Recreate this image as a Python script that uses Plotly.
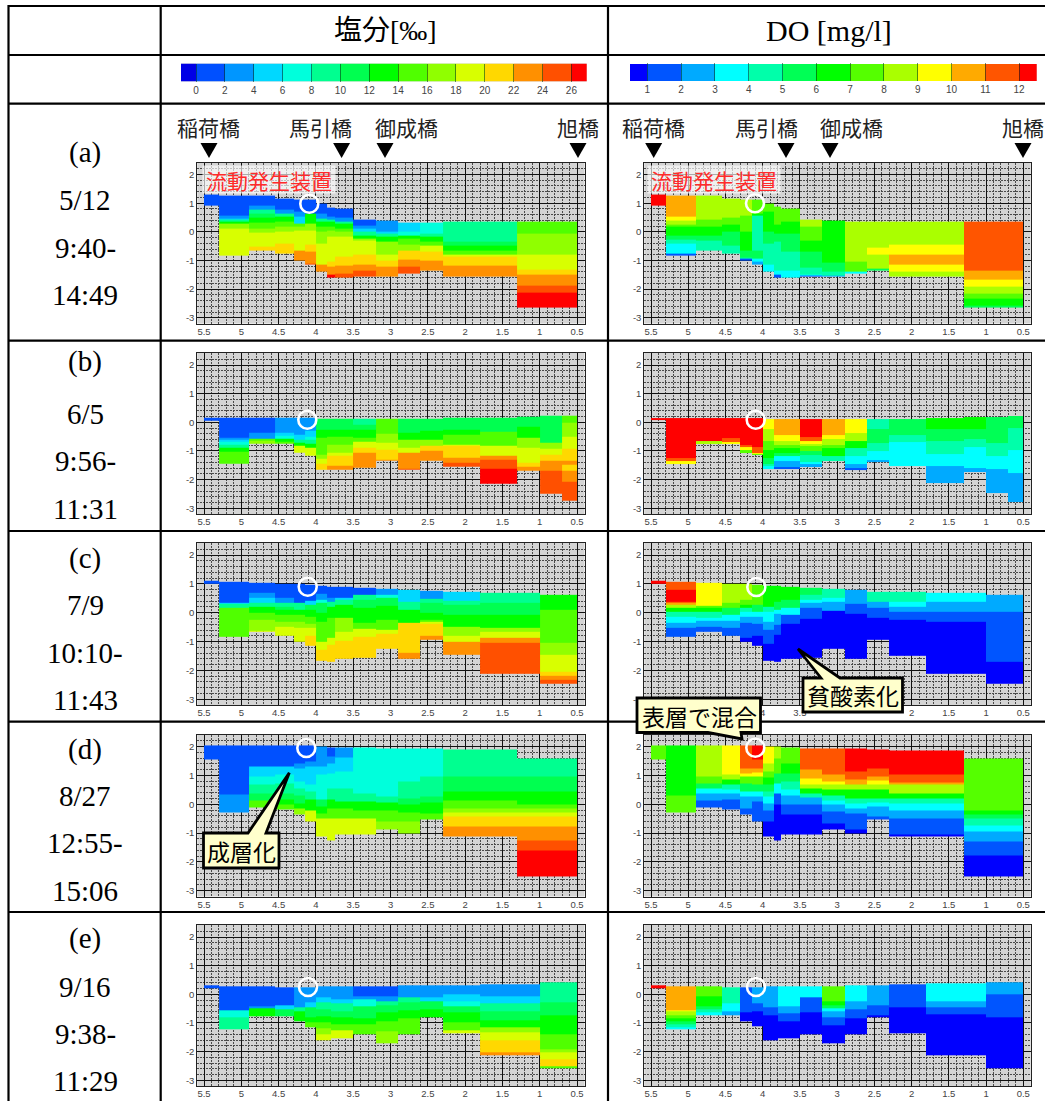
import plotly.graph_objects as go

W, H = 1045, 1101
NAN = None

# Each column: (river km left, river km right, level boundaries top->bottom, band value of each layer)
SAL_A = [
 (5.5,5.3,[1.30,.90],[1]),
 (5.3,4.9,[1.28,.58,.47,.41,.35,.29,.13,-.83],[1,3,5,9,13,17,19]),
 (4.9,4.55,[1.26,.93,.78,.64,.50,.33,.13,-.03,-.50,-.66],[1,3,9,11,13,15,17,19,21]),
 (4.55,4.3,[1.16,.78,.64,.52,.35,.17,0,-.40,-.76],[1,3,9,13,15,17,19,21]),
 (4.3,4.15,[1.13,.70,.52,.29,.17,.06,-.66,-.99],[1,3,5,15,17,19,23]),
 (4.15,4.0,[1.13,.64,.29,.06,-.46,-.70,-1.10,-1.13],[1,13,17,19,21,23,25]),
 (4.0,3.85,[1.00,.64,.46,.35,.17,0,-.40,-1.14,-1.40],[1,3,9,13,15,17,19,23]),
 (3.85,3.75,[.85,.52,.43,.35,.17,.06,-.15,-1.05,-1.22,-1.50,-1.58],[1,3,9,13,15,17,19,21,23,27]),
 (3.75,3.5,[.81,.49,.37,.29,.12,0,-.15,-.87,-1.18,-1.45,-1.60],[1,3,9,13,15,17,19,21,23,25]),
 (3.5,3.2,[.44,.23,.12,0,-.12,-.23,-.31,-.81,-1.16,-1.36,-1.57],[1,3,5,9,13,17,19,21,23,25]),
 (3.2,2.9,[.40,0,-.06,-.17,-.35,-.78,-.99,-1.22,-1.57],[3,5,9,13,17,19,21,23]),
 (2.9,2.6,[.32,0,-.12,-.23,-.44,-.64,-.97,-1.20,-1.45],[5,7,13,15,17,21,23,25]),
 (2.6,2.3,[.32,-.06,-.17,-.35,-.49,-.69,-1.0,-1.36],[7,9,13,15,19,21,23]),
 (2.3,1.3,[.35,-.35,-.49,-.66,-.81,-.87,-1.18,-1.57],[9,11,13,15,19,21,23]),
 (1.3,.5,[.35,-.06,-.78,-1.31,-1.48,-1.86,-2.12,-2.65],[15,17,19,21,23,25,27]),
]
DO_A = [
 (5.5,5.3,[1.30,.90],[12.5]),
 (5.3,4.9,[1.28,.52,.38,.27,.17,-.12,-.27,-.41,-.76,-.84],[10.5,9.5,8.5,7.5,6.5,5.5,4.5,3.5,1.5]),
 (4.9,4.55,[1.26,.41,.17,-.12,-.31,-.49,-.66],[8.5,7.5,6.5,5.5,4.5,4.5]),
 (4.55,4.3,[1.16,.50,.27,0,-.47,-.76],[8.5,7.5,6.5,5.5,4.5]),
 (4.3,4.15,[1.13,.58,0,-.64,-.90,-.93,-1.0],[8.5,7.5,6.5,5.5,4.5,1.5]),
 (4.15,4.0,[1.13,.64,.58,0,-.64,-.95,-1.05,-1.13],[7.5,6.5,4.5,4.5,5.5,3.5,2.5]),
 (4.0,3.85,[1.0,.70,0,-.41,-1.16,-1.40],[7.5,6.5,5.5,4.5,3.5]),
 (3.85,3.75,[.87,.27,-.06,-.35,-1.34,-1.50,-1.58],[7.5,6.5,5.5,4.5,3.5,1.5]),
 (3.75,3.5,[.81,.35,-.06,-.70,-1.36,-1.60],[7.5,6.5,5.5,4.5,3.5]),
 (3.5,3.2,[.44,.17,-.29,-.70,-1.24,-1.49,-1.51,-1.57],[8.5,7.5,6.5,5.5,4.5,3.5,1.5]),
 (3.2,2.9,[.40,-1.08,-1.40,-1.51,-1.57],[6.5,5.5,4.5,2.5]),
 (2.9,2.6,[.35,-1.05,-1.40,-1.45],[8.5,7.5,3.5]),
 (2.6,2.3,[.35,-.56,-.78,-1.28,-1.36],[8.5,9.5,8.5,5.5]),
 (2.3,1.3,[.35,-.43,-.81,-1.13,-1.40,-1.57],[8.5,9.5,10.5,9.5,8.5]),
 (1.3,.5,[.35,-1.37,-1.66,-1.90,-2.15,-2.33,-2.56,-2.65],[11.5,10.5,9.5,8.5,7.5,6.5,5.5]),
]
SAL_B = [
 (5.5,5.3,[.15,.07],[1]),
 (5.3,4.9,[.15,-.54,-.61,-.69,-.77,-.89,-1.04,-1.45],[1,3,5,7,9,13,15]),
 (4.9,4.55,[.15,-.37,-.58,-.66,-.75],[1,3,15,17]),
 (4.55,4.3,[.15,-.37,-.46,-.58,-.68,-.75],[3,5,7,13,15]),
 (4.3,4.15,[.15,-.45,-.60,-.72,-.83,-1.05],[3,5,9,13,19]),
 (4.15,4.0,[.15,-.31,-.52,-.60,-.75,-.87,-1.15],[3,5,7,9,13,19]),
 (4.0,3.85,[.13,-.25,-.54,-1.12,-1.26,-1.45,-1.64],[11,13,15,17,19,21]),
 (3.85,3.5,[.13,-.25,-.49,-.78,-1.06,-1.18,-1.53,-1.64],[11,13,15,17,19,21,23]),
 (3.5,3.2,[.13,-.08,-.25,-.54,-.68,-.87,-1.06,-1.57],[9,11,13,15,19,21,23]),
 (3.2,2.9,[.13,-.40,-.72,-.95,-1.30,-1.35],[15,17,19,21,23]),
 (2.9,2.6,[.13,-.37,-.60,-.89,-1.06,-1.61,-1.65],[11,13,17,19,23,25]),
 (2.6,2.3,[.13,-.29,-.60,-.83,-.98,-1.33],[11,13,17,21,23]),
 (2.3,1.8,[.15,-.25,-.43,-.78,-.83,-1.24,-1.41,-1.54],[11,13,15,19,21,23,25]),
 (1.8,1.3,[.16,-.34,-.83,-1.18,-1.32,-1.61,-2.13],[11,15,19,23,25,27]),
 (1.3,1.0,[.19,-.14,-.54,-.87,-1.41,-1.56,-1.70],[11,13,17,19,21,23]),
 (1.0,.7,[.22,-.72,-.93,-1.12,-1.33,-1.70,-2.48],[11,17,19,21,23,25]),
 (.7,.5,[.23,0,-.49,-.91,-1.33,-1.47,-1.70,-2.08,-2.74],[15,17,19,21,23,21,23,25]),
]
DO_B = [
 (5.5,5.3,[.15,.07],[12.5]),
 (5.3,4.9,[.15,-1.26,-1.36,-1.45],[12.5,11.5,9.5]),
 (4.9,4.55,[.15,-.66,-.75],[12.5,8.5]),
 (4.55,4.3,[.15,-.54,-.68,-.75],[12.5,11.5,9.5]),
 (4.3,4.15,[.15,-.78,-.87,-.98,-1.06],[12.5,11.5,9.5,7.5]),
 (4.15,4.0,[.15,-.87,-1.06,-1.10,-1.15],[12.5,11.5,9.5,7.5]),
 (4.0,3.85,[.13,-.22,-.66,-.95,-1.24,-1.45,-1.53,-1.64],[9.5,8.5,7.5,6.5,5.5,4.5,3.5]),
 (3.85,3.5,[.13,-.45,-.64,-.78,-.89,-1.06,-1.18,-1.35,-1.56,-1.64],[10.5,9.5,8.5,7.5,6.5,5.5,3.5,2.5,1.5]),
 (3.5,3.2,[.13,-.51,-.64,-.75,-.83,-1.0,-1.14,-1.38,-1.45,-1.57],[12.5,11.5,9.5,8.5,7.5,5.5,4.5,3.5,2.5]),
 (3.2,2.9,[.13,-.45,-.57,-.78,-.89,-1.18,-1.35],[10.5,9.5,8.5,7.5,6.5,4.5]),
 (2.9,2.6,[.13,-.37,-.66,-.89,-1.18,-1.47,-1.59,-1.65],[9.5,8.5,6.5,4.5,3.5,2.5,1.5]),
 (2.6,2.3,[.13,-.22,-.72,-1.0,-1.32,-1.38],[4.5,5.5,4.5,3.5,2.5]),
 (2.3,1.8,[.13,-.43,-.68,-1.54],[5.5,4.5,3.5]),
 (1.8,1.3,[.15,-.25,-.64,-1.10,-1.53,-2.13],[6.5,5.5,4.5,3.5,2.5]),
 (1.3,1.0,[.17,-.25,-.60,-.87,-1.59,-1.72],[6.5,5.5,4.5,3.5,2.5]),
 (1.0,.7,[.20,-.72,-1.18,-1.64,-2.48],[5.5,4.5,3.5,2.5]),
 (.7,.5,[.22,-.20,-.98,-1.78,-2.77],[5.5,4.5,3.5,2.5]),
]
SAL_C = [
 (5.5,5.3,[1.11,1.0],[1]),
 (5.3,4.9,[1.07,.36,.30,.19,-.82],[1,5,9,15]),
 (4.9,4.55,[1.04,.68,.51,.34,.22,0,-.24,-.61,-.67],[1,3,5,9,13,15,17,19]),
 (4.55,4.3,[1.02,.51,.34,.22,.10,-.07,-.30,-.50,-.80],[1,3,9,11,13,15,17,19]),
 (4.3,4.15,[1.0,.34,.10,-.07,-.32,-.51,-1.02],[1,9,13,15,17,19]),
 (4.15,4.0,[.97,.42,.28,.10,-.13,-.39,-.51,-.79,-1.13],[1,5,11,13,15,17,19,21]),
 (4.0,3.85,[.95,.65,.45,.34,0,-.30,-1.0,-1.28,-1.66],[1,3,7,11,13,15,19,21]),
 (3.85,3.75,[.91,.51,.39,.22,-.19,-.88,-1.11,-1.69],[1,3,9,13,15,19,21]),
 (3.75,3.5,[.89,.51,.45,.28,-.19,-.65,-.97,-1.60],[1,5,9,13,17,19,21]),
 (3.5,3.2,[.86,.63,.45,.16,-.36,-.57,-.82,-1.55],[1,9,11,13,15,19,21]),
 (3.2,2.9,[.82,.63,.51,.25,-.24,-.59,-.73,-1.25],[3,7,11,13,15,19,21]),
 (2.9,2.6,[.80,.39,.10,-.36,-1.40,-1.60],[5,9,13,21,23]),
 (2.6,2.3,[.76,.49,.34,0,-.24,-.30,-.39,-.80,-.95],[3,9,11,13,15,19,21,23]),
 (2.3,1.8,[.72,.43,.28,-.07,-.50,-.80,-1.0,-1.46],[5,9,11,13,17,19,23]),
 (1.8,1.0,[.70,.34,-.07,-.51,-.65,-.86,-1.03,-2.12],[9,11,13,17,19,23,25]),
 (1.0,.5,[.63,.10,-1.03,-1.46,-2.06,-2.18,-2.32,-2.47],[13,15,17,19,21,23,25]),
]
DO_C = [
 (5.5,5.3,[1.11,1.0],[12.5]),
 (5.3,4.9,[1.07,.80,.39,.33,.28,.16,.02,-.13,-.33,-.53,-.82],[11.5,12.5,11.5,10.5,8.5,6.5,4.5,3.5,2.5,1.5]),
 (4.9,4.55,[1.04,.25,.16,.02,-.16,-.28,-.47,-.67],[9.5,7.5,6.5,4.5,3.5,2.5,1.5]),
 (4.55,4.3,[1.02,.34,.16,-.07,-.28,-.51,-.79],[8.5,7.5,5.5,3.5,2.5,1.5]),
 (4.3,4.15,[1.0,.45,.28,.16,.02,-.13,-.36,-.88,-1.0],[8.5,7.5,6.5,4.5,3.5,2.5,1.5,.5]),
 (4.15,4.0,[.97,.28,.05,-.13,-.39,-.79,-1.13],[7.5,5.5,3.5,2.5,1.5,.5]),
 (4.0,3.85,[.95,.22,.02,-.30,-.59,-1.08,-1.67],[6.5,4.5,3.5,2.5,1.5,.5]),
 (3.85,3.75,[.94,.39,.10,-.05,-.42,-.76,-1.69],[6.5,5.5,3.5,2.5,1.5,.5]),
 (3.75,3.5,[.91,.45,.16,-.07,-.39,-1.60],[6.5,5.5,3.5,1.5,.5]),
 (3.5,3.2,[.86,.63,.45,.34,.16,-.21,-1.55],[5.5,4.5,3.5,2.5,1.5,.5]),
 (3.2,2.9,[.82,.51,.39,.07,-1.25],[4.5,3.5,2.5,.5]),
 (2.9,2.6,[.80,.31,-.05,-1.60],[2.5,1.5,.5]),
 (2.6,2.3,[.74,.39,.18,-.19,-.95],[4.5,2.5,1.5,.5]),
 (2.3,1.8,[.72,.37,.22,.02,-.24,-1.48],[4.5,3.5,2.5,1.5,.5]),
 (1.8,1.0,[.69,.37,.02,-.32,-2.13],[3.5,2.5,1.5,.5]),
 (1.0,.5,[.63,.02,-1.69,-2.47],[2.5,1.5,.5]),
]
SAL_D = [
 (5.5,5.3,[2.04,1.54],[1]),
 (5.3,4.9,[2.04,.35,-.28],[1,3]),
 (4.9,4.55,[2.04,1.31,.96,.67,.38,.12,-.12],[1,5,7,9,11,15]),
 (4.55,4.3,[2.04,1.31,1.02,.73,.38,.15,-.02,-.17],[1,5,7,9,11,13,15]),
 (4.3,4.15,[2.04,1.42,1.25,.79,.56,.32,.03,-.14,-.37],[1,3,5,7,9,11,13,17]),
 (4.15,4.0,[2.04,1.48,1.31,.67,.44,.15,-.23,-.60],[1,3,5,7,9,13,19]),
 (4.0,3.85,[2.0,1.31,1.02,.15,-.08,-.31,-.49,-1.12],[3,5,7,11,13,15,19]),
 (3.85,3.75,[1.97,1.66,1.43,1.08,.56,.15,-.14,-.49,-1.24],[1,3,5,7,9,13,15,19]),
 (3.75,3.5,[1.97,1.62,1.13,.56,.09,-.14,-.49,-1.04],[3,5,7,9,13,15,19]),
 (3.5,3.2,[1.97,.38,.09,-.20,-.49,-1.06],[7,9,13,15,19]),
 (3.2,2.9,[1.95,.27,.07,-.20,-.60,-.86],[7,9,13,15,17]),
 (2.9,2.6,[1.92,.79,.19,-.02,-.28,-.60,-1.0],[7,9,11,13,15,17]),
 (2.6,2.3,[1.92,.96,.27,.07,-.31,-.51],[7,9,11,13,15]),
 (2.3,1.3,[1.89,.96,.46,.12,-.16,-.30,-.43,-.78,-1.10],[9,11,13,15,17,19,21,23]),
 (1.3,.5,[1.6,.96,.46,-.02,-.14,-.28,-.41,-.78,-1.26,-1.59,-2.52],[9,11,13,15,17,19,21,23,25,27]),
]
DO_D = [
 (5.5,5.3,[2.04,1.54],[7.5]),
 (5.3,4.9,[2.04,.29,-.28],[6.5,7.5]),
 (4.9,4.55,[2.04,.96,.73,.56,.36,.13,-.10],[8.5,7.5,5.5,3.5,2.5,1.5]),
 (4.55,4.3,[2.04,1.02,.85,.67,.50,.36,.15,-.17],[9.5,8.5,6.5,4.5,3.5,2.5,1.5]),
 (4.3,4.15,[2.04,1.23,1.08,.96,.73,.46,.27,-.14,-.37],[11.5,10.5,9.5,7.5,5.5,3.5,2.5,1.5]),
 (4.15,4.0,[2.04,1.54,1.23,1.11,.96,.67,.46,.27,.09,-.60],[12.5,11.5,10.5,9.5,7.5,5.5,3.5,2.5,1.5]),
 (4.0,3.85,[2.0,1.42,1.13,.94,.67,.44,.27,.03,-.23,-.60,-1.10],[9.5,8.5,7.5,6.5,5.5,4.5,3.5,2.5,1.5,.5]),
 (3.85,3.75,[1.99,1.6,1.08,.73,.38,0,-1.24],[8.5,7.5,5.5,3.5,1.5,.5]),
 (3.75,3.5,[1.97,1.42,1.08,.79,.50,.32,-.02,-.37,-1.06],[7.5,6.5,5.5,4.5,3.5,2.5,1.5,.5]),
 (3.5,3.2,[1.95,1.20,.88,.69,.56,.38,.23,-.02,-.37,-1.06],[11.5,10.5,9.5,8.5,6.5,4.5,2.5,1.5,.5]),
 (3.2,2.9,[1.92,1.02,.79,.69,.50,.32,.12,-.02,-.25,-.66,-.86],[11.5,10.5,9.5,8.5,6.5,4.5,3.5,2.5,1.5,.5]),
 (2.9,2.6,[1.92,1.13,.85,.69,.50,.21,.03,-.14,-.31,-.89,-1.0],[12.5,11.5,10.5,8.5,6.5,4.5,3.5,2.5,1.5,.5]),
 (2.6,2.3,[1.90,1.25,.96,.82,.67,.50,.19,.06,-.08,-.43,-.52],[12.5,11.5,10.5,9.5,8.5,6.5,4.5,3.5,2.5,1.5]),
 (2.3,1.3,[1.87,1.02,.76,.69,.38,.19,.03,-.23,-.49,-1.06,-1.10],[12.5,11.5,10.5,8.5,6.5,4.5,3.5,2.5,1.5,.5]),
 (1.3,.5,[1.6,-.20,-.35,-.49,-.75,-.93,-1.30,-1.76,-2.52],[7.5,6.5,5.5,4.5,3.5,2.5,1.5,.5]),
]
SAL_E = [
 (5.5,5.3,[.31,.21],[1]),
 (5.3,4.9,[.28,-.56,-.81,-1.22],[1,7,9]),
 (4.9,4.55,[.28,-.41,-.49,-.75],[1,3,13]),
 (4.55,4.3,[.25,-.37,-.52,-.75],[1,5,11]),
 (4.3,4.15,[.25,-.46,-.60,-.95],[3,9,13]),
 (4.15,4.0,[.25,-.27,-.46,-.81,-.98,-1.16],[3,5,11,13,15]),
 (4.0,3.8,[.28,-.12,-.29,-.52,-.75,-.98,-1.18,-1.41,-1.62],[3,5,9,11,13,15,17,19]),
 (3.8,3.5,[.28,-.17,-.32,-.58,-.81,-1.06,-1.27,-1.53],[3,5,9,11,13,15,19]),
 (3.5,3.2,[.28,-.06,-.17,-.41,-.83,-1.06,-1.41],[1,3,7,11,13,15]),
 (3.2,2.9,[.28,-.06,-.23,-.37,-.64,-.95,-1.30,-1.71],[1,3,9,11,13,15,17]),
 (2.9,2.6,[.30,-.12,-.29,-.54,-.83,-1.39],[3,9,11,13,15]),
 (2.6,2.3,[.31,-.12,-.25,-.52,-.79],[3,5,11,13]),
 (2.3,1.8,[.32,0,-.23,-.41,-.64,-.98,-1.24,-1.37],[3,5,7,11,13,15,19]),
 (1.8,1.0,[.36,-.06,-.32,-.58,-.90,-1.16,-1.33,-1.62,-2.04,-2.12],[3,5,9,11,13,17,19,21,23]),
 (1.0,.5,[.42,-.29,-.72,-1.41,-1.91,-2.03,-2.28,-2.51,-2.58],[9,11,13,15,17,19,21,15]),
]
DO_E = [
 (5.5,5.3,[.31,.21],[12.5]),
 (5.3,4.9,[.28,-.54,-.60,-.72,-.83,-.95,-1.06,-1.16,-1.22],[10.5,9.5,8.5,7.5,6.5,5.5,4.5,3.5]),
 (4.9,4.55,[.28,-.06,-.41,-.52,-.64,-.73],[7.5,6.5,5.5,4.5,3.5]),
 (4.55,4.3,[.25,-.31,-.60,-.73],[4.5,3.5,2.5]),
 (4.3,4.15,[.25,-.61,-.95],[1.5,.5]),
 (4.15,4.0,[.25,-.33,-.60,-1.13],[2.5,1.5,.5]),
 (4.0,3.8,[.28,-.44,-.73,-1.62],[2.5,1.5,.5]),
 (3.8,3.5,[.28,-.41,-.67,-.93,-1.53],[3.5,2.5,1.5,.5]),
 (3.5,3.2,[.28,-.12,-.64,-1.41],[3.5,1.5,.5]),
 (3.2,2.9,[.28,-.23,-.37,-.49,-.58,-.79,-1.07,-1.71],[7.5,6.5,5.5,3.5,2.5,1.5,.5]),
 (2.9,2.6,[.30,-.23,-.52,-.85,-1.39],[3.5,2.5,1.5,.5]),
 (2.6,2.3,[.31,-.37,-.72,-.79],[2.5,1.5,.5]),
 (2.3,1.8,[.35,-.44,-1.37],[1.5,.5]),
 (1.8,1.0,[.37,-.23,-.44,-.69,-2.12],[3.5,2.5,1.5,.5]),
 (1.0,.5,[.42,0,-.79,-2.58],[2.5,1.5,.5]),
]

SAL_COLORS = ["#0000e6","#0050ff","#0096ff","#00d8ff","#00ffdc","#00ff90","#00ff50","#00ff00",
              "#50ff00","#90ff00","#d8ff00","#ffd800","#ff9000","#ff5000","#ff0000"]
DO_COLORS = ["#0000ff","#0055ff","#00aaff","#00ffff","#00ffaa","#00ff55","#00ff00","#55ff00",
             "#aaff00","#ffff00","#ffaa00","#ff5500","#ff0000"]
SAL_BAR_TICKS = [0,2,4,6,8,10,12,14,16,18,20,22,24,26]
DO_BAR_TICKS = [1,2,3,4,5,6,7,8,9,10,11,12]
X_TICKS = [5.5,5,4.5,4,3.5,3,2.5,2,1.5,1,.5]
X_LABELS = ["5.5","5","4.5","4","3.5","3","2.5","2","1.5","1","0.5"]
# tick labels the reference hides behind the two callouts of row (c), right panel
X_LABELS_COVERED = ["","","","4","3.5","","","2","1.5","1","0.5"]
Y_TICKS = [2,1,0,-1,-2,-3]
Y_LABELS = ["2","1","0","-1","-2","-3"]
ROW_LABELS = [["(a)","5/12","9:40-","14:49"],["(b)","6/5","9:56-","11:31"],["(c)","7/9","10:10-","11:43"],
              ["(d)","8/27","12:55-","15:06"],["(e)","9/16","9:38-","11:29"]]
BRIDGES = ["稲荷橋","馬引橋","御成橋","旭橋"]

def stepped(colors):
    n = len(colors); out = []
    for i, c in enumerate(colors):
        out += [[i/n, c], [(i+1)/n, c]]
    return out
SAL_SCALE = dict(colorscale=stepped(SAL_COLORS), zmin=-2, zmax=28, showscale=False)
DO_SCALE = dict(colorscale=stepped(DO_COLORS), zmin=0, zmax=13, showscale=False)

def grid(cols):
    xs = sorted({c[0] for c in cols} | {c[1] for c in cols})
    ys = sorted({round(v, 3) for c in cols for v in c[2]})
    z = [[NAN]*(len(xs)-1) for _ in range(len(ys)-1)]
    for xl, xr, bs, vs in cols:
        assert len(bs) == len(vs)+1, (xl, bs, vs)
        for j in range(len(xs)-1):
            xm = (xs[j]+xs[j+1])/2
            if not (xr < xm < xl):
                continue
            for i in range(len(ys)-1):
                ym = (ys[i]+ys[i+1])/2
                for k, v in enumerate(vs):
                    if bs[k+1] < ym < bs[k]:
                        z[i][j] = v
    return xs, ys, z

fig = go.Figure()
px = lambda x: x/W
py = lambda y: 1-y/H
SANS = "Liberation Sans, Arial, sans-serif"
SERIF = "Liberation Serif, Noto Sans CJK JP, serif"
CJK = "Noto Sans CJK JP, sans-serif"
layout = {}
n_axis = [0]

def add_axes(x0, x1, y0, y1):
    n_axis[0] += 1
    s = "" if n_axis[0] == 1 else str(n_axis[0])
    return n_axis[0], s, dict(domain=[px(x0), px(x1)]), dict(domain=[py(y1), py(y0)])

ROWS = [(162.5,323.5),(353,514),(543,705),(734.5,896.5),(925,1086)]
LEFT = (197.3,584.5)
RIGHT = (644.3,1030.7)
PANELS = [(SAL_A,DO_A),(SAL_B,DO_B),(SAL_C,DO_C),(SAL_D,DO_D),(SAL_E,DO_E)]

for r,(top,bot) in enumerate(ROWS):
    for data, scale, (xa, xb) in ((PANELS[r][0],SAL_SCALE,LEFT),(PANELS[r][1],DO_SCALE,RIGHT)):
        k, s, ax, ay = add_axes(xa, xb, top, bot)
        xs, ys, z = grid(data)
        fig.add_trace(go.Heatmap(x=xs, y=ys, z=z, xaxis=f"x{s}", yaxis=f"y{s}", hoverongaps=False, **scale))
        labels = X_LABELS_COVERED if data is DO_C else X_LABELS
        ax.update(range=[5.59,0.40], anchor=f"y{s}", tickmode="array", tickvals=X_TICKS, ticktext=labels,
                  showgrid=True, gridcolor="#111", gridwidth=1.3, zeroline=False,
                  minor=dict(dtick=0.1, tick0=0, showgrid=True, gridcolor="#4a4a4a", griddash="2px,1px", gridwidth=1, ticks=""),
                  showline=True, linecolor="#222", mirror=True, linewidth=1, ticks="",
                  tickfont=dict(family=SANS, size=9.5, color="#444"), ticklabelstandoff=-1)
        ay.update(range=[-3.2,2.42], anchor=f"x{s}", tickmode="array", tickvals=Y_TICKS, ticktext=Y_LABELS,
                  showgrid=True, gridcolor="#111", gridwidth=1.3, zeroline=False,
                  minor=dict(dtick=0.2, tick0=0, showgrid=True, gridcolor="#4a4a4a", griddash="2px,1px", gridwidth=1, ticks=""),
                  showline=True, linecolor="#222", mirror=True, linewidth=1, ticks="",
                  tickfont=dict(family=SANS, size=9.5, color="#444"))
        layout[f"xaxis{s}"] = ax; layout[f"yaxis{s}"] = ay

# colour keys
for edges, vals, ticks, scale, (xa, xb, ya, yb), rng in (
    ([-1.04]+SAL_BAR_TICKS+[27.06], [-1]+[t+1 for t in SAL_BAR_TICKS], SAL_BAR_TICKS, SAL_SCALE, (181,586.7,63.5,81.5), [-1.04,27.06]),
    ([0.488]+DO_BAR_TICKS+[12.52], [.5]+[t+.5 for t in DO_BAR_TICKS], DO_BAR_TICKS, DO_SCALE, (630,1036.7,64,81), [0.488,12.52])):
    k, s, ax, ay = add_axes(xa, xb, ya, yb)
    fig.add_trace(go.Heatmap(x=edges, y=[0,1], z=[vals], xaxis=f"x{s}", yaxis=f"y{s}", **scale))
    ax.update(range=rng, anchor=f"y{s}", tickmode="array", tickvals=ticks, ticks="inside", ticklen=18,
              tickcolor="rgba(0,50,20,0.55)", tickwidth=1, showgrid=False, zeroline=False, showline=False,
              tickfont=dict(family=SANS, size=10, color="#444"), ticklabelstandoff=1)
    ay.update(range=[0,1], anchor=f"x{s}", visible=False)
    layout[f"xaxis{s}"] = ax; layout[f"yaxis{s}"] = ay

shapes = []; ann = []
def line(x0,y0,x1,y1,w=2.2):
    shapes.append(dict(type="line",xref="paper",yref="paper",x0=px(x0),y0=py(y0),x1=px(x1),y1=py(y1),line=dict(color="black",width=w)))
for y in (6,55,103.7,340.7,531,721.7,912):
    line(8,y,W,y)
line(8.5,5,8.5,H); line(160.7,5,160.7,H); line(608,5,608,H)

def text(x,y,t,size,family=SERIF,color="black",**kw):
    ann.append(dict(xref="paper",yref="paper",x=px(x),y=py(y),text=t,showarrow=False,xanchor="center",yanchor="middle",
                    font=dict(family=family,size=size,color=color),**kw))
text(385,31,"塩分[‰]",28)
text(829,31,"DO [mg/l]",30)
ROW_Y = [[152,200,248,295],[362,414,461,509],[558,605,653,700],[749,796,843,891],[938,987,1034,1081]]
for labs, ys_ in zip(ROW_LABELS, ROW_Y):
    for t, y in zip(labs, ys_):
        text(85,y,t,29)

for names_x, tri_x in (((208,320,406,578),(209,341.6,385,578)),((653,766,851,1023),(653.7,786,830,1023))):
    for n, x in zip(BRIDGES, names_x):
        text(x,127,n,21,family=CJK,color="#222")
    for x in tri_x:
        p = f"M {px(x-8.5)} {py(143)} L {px(x+8.5)} {py(143)} L {px(x)} {py(158)} Z"
        shapes.append(dict(type="path",xref="paper",yref="paper",path=p,fillcolor="black",line=dict(width=0)))
for x in (268.5,714):
    text(x,179,"流動発生装置",21,family=CJK,color="#ff2a2a",bgcolor="rgba(255,255,255,0.65)",width=130,height=25)

CIRCLES = [(309.3,203.7),(755,203.3),(307.3,419.7),(755.7,419.7),(307.7,586.7),(756.3,587),(306.3,748),(755.3,747.7),(308,987),(756,987)]
for x,y in CIRCLES:
    shapes.append(dict(type="circle",xref="paper",yref="paper",x0=px(x-9),x1=px(x+9),y0=py(y+9),y1=py(y-9),line=dict(color="white",width=2.6)))

def callout(pts, cx, cy, t):
    p = "M "+" L ".join(f"{px(a)} {py(b)}" for a,b in pts)+" Z"
    shapes.append(dict(type="path",xref="paper",yref="paper",path=p,fillcolor="#ffffcc",line=dict(color="black",width=2.8)))
    text(cx,cy,t,23,family=CJK)
callout([(803,678),(821,678),(798,649),(840,678),(902.5,678),(902.5,712),(803,712)],853,695,"貧酸素化")
callout([(637,698),(760.5,698),(760.5,732.5),(741,732.5),(742,739),(708,732.5),(637,732.5)],699,715.5,"表層で混合")
callout([(203.5,833),(248,833),(289.3,772.7),(266,833),(279,833),(279,868),(203.5,868)],241,851,"成層化")

fig.update_layout(width=W, height=H, margin=dict(l=0,r=0,t=0,b=0), paper_bgcolor="white", plot_bgcolor="#d4d4d4",
                  showlegend=False, shapes=shapes, annotations=ann, **layout)
fig.write_html("out.html", config=dict(displayModeBar=False),
               post_script="document.body.style.margin='0';document.body.style.overflow='hidden';")
